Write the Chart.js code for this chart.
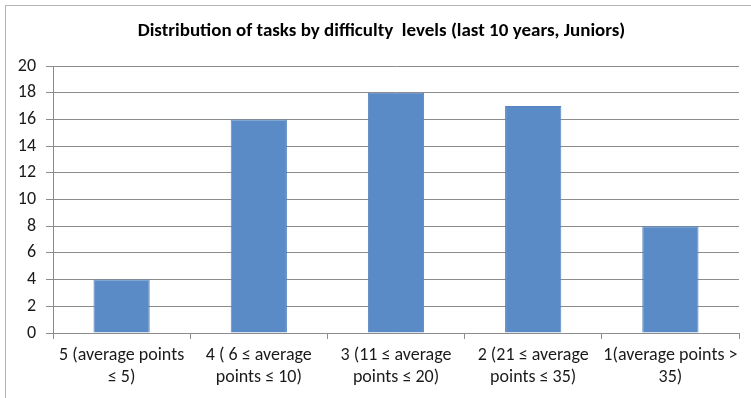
<!DOCTYPE html>
<html>
<head>
<meta charset="utf-8">
<script src="https://cdn.jsdelivr.net/npm/chart.js@4/dist/chart.umd.min.js"></script>
<style>
  html, body { margin: 0; padding: 0; background: #fff; }
  #wrap { position: relative; width: 751px; height: 398px; overflow: hidden; }
  #frame { position: absolute; left: 5px; top: 5px; width: 800px; height: 500px;
           border-left: 1px solid #b4b4b4; border-top: 1px solid #b4b4b4; }
  canvas { position: absolute; left: 0; top: 0; }
</style>
</head>
<body>
<div id="wrap">
  <div id="frame"></div>
  <canvas id="chart" width="751" height="398"></canvas>
</div>
<script>
// Difficulty levels and number of tasks in each
var levels = [
  ['5 (average points', '≤ 5)'],
  ['4 ( 6 ≤ average', 'points ≤ 10)'],
  ['3 (11 ≤ average', 'points ≤ 20)'],
  ['2 (21 ≤ average', 'points ≤ 35)'],
  ['1(average points >', '35)']
];
var taskCounts = [4, 16, 18, 17, 8];
var yTicks = [0, 2, 4, 6, 8, 10, 12, 14, 16, 18, 20];

var FONT = "'Carlito', 'Liberation Sans Narrow', 'Liberation Sans', sans-serif";

// nudge the title a bit to the right, centred over the whole frame
var titleShift = {
  id: 'titleShift',
  afterLayout: function (chart) {
    if (chart.titleBlock) chart.titleBlock.left += 24;
  }
};

new Chart(document.getElementById('chart'), {
  type: 'bar',
  data: {
    labels: levels,
    datasets: [{
      data: taskCounts,
      backgroundColor: '#5b8bc6',
      borderColor: '#5483bf',
      borderWidth: 1,
      barPercentage: 0.41,
      categoryPercentage: 1
    }]
  },
  options: {
    responsive: false,
    animation: false,
    layout: { padding: { left: 0, right: 12, top: 0, bottom: 0 } },
    plugins: {
      legend: { display: false },
      tooltip: { enabled: false },
      title: {
        display: true,
        text: 'Distribution of tasks by difficulty  levels (last 10 years, Juniors)',
        color: '#000',
        font: { family: FONT, size: 19, weight: 'bold', lineHeight: 1.2 },
        padding: { top: 20, bottom: 23.2 }
      }
    },
    scales: {
      y: {
        min: 0,
        max: 20,
        afterBuildTicks: function (scale) {
          scale.ticks = yTicks.map(function (v) { return { value: v }; });
        },
        afterFit: function (scale) { scale.width = 53; },
        border: { color: '#8c8c8c', width: 1 },
        grid: { color: '#8c8c8c', tickLength: 7 },
        ticks: { color: '#1a1a1a', padding: 10, font: { family: FONT, size: 18 } }
      },
      x: {
        afterFit: function (scale) { scale.height = 65; },
        border: { color: '#8c8c8c', width: 1 },
        grid: { drawOnChartArea: false, color: '#8c8c8c', tickLength: 6 },
        ticks: { color: '#1a1a1a', padding: 6, maxRotation: 0, autoSkip: false, font: { family: FONT, size: 18, lineHeight: 1.22 } }
      }
    }
  },
  plugins: [titleShift]
});
</script>
</body>
</html>
